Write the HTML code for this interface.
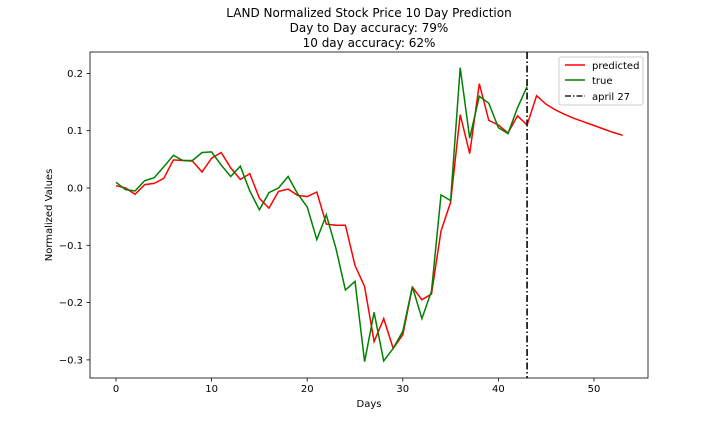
<!DOCTYPE html>
<html><head><meta charset="utf-8"><style>
body{margin:0;background:#fff;font-family:"Liberation Sans","DejaVu Sans",sans-serif}
svg text{font-family:"DejaVu Sans","Liberation Sans",sans-serif}
</style></head><body>
<svg id="chart" width="720" height="432">
<text x="369" y="17" font-size="12" text-anchor="middle">LAND Normalized Stock Price 10 Day Prediction</text>
<text x="369" y="32" font-size="12" text-anchor="middle">Day to Day accuracy: 79%</text>
<text x="369" y="47" font-size="12" text-anchor="middle">10 day accuracy: 62%</text>
<g id="axes"></g>
<g id="lines"></g>
<rect x="90" y="52" width="558" height="326" fill="none" stroke="#000" stroke-width="0.8"/>
<text x="369" y="407" font-size="10" text-anchor="middle">Days</text>
<text x="0" y="0" font-size="10" text-anchor="middle" transform="translate(52,215) rotate(-90)">Normalized Values</text>
<g>
<rect x="559" y="57" width="84" height="48" fill="#fff" stroke="#ccc" rx="2"/>
<line x1="565" y1="65" x2="585" y2="65" stroke="red" stroke-width="1.5"/>
<text x="592" y="69" font-size="10">predicted</text>
<line x1="565" y1="80" x2="585" y2="80" stroke="green" stroke-width="1.5"/>
<text x="592" y="84" font-size="10">true</text>
<line x1="565" y1="96" x2="585" y2="96" stroke="#222" stroke-width="1.5" stroke-dasharray="6,2,1.5,2"/>
<text x="592" y="100" font-size="10">april 27</text>
</g>
</svg>
<script>
const trueVals=[0.01,-0.003,-0.005,0.013,0.018,0.037,0.057,0.048,0.048,0.062,0.063,0.04,0.02,0.038,-0.005,-0.038,-0.008,0.0,0.02,-0.01,-0.033,-0.09,-0.047,-0.105,-0.178,-0.163,-0.303,-0.217,-0.302,-0.28,-0.25,-0.172,-0.228,-0.18,-0.012,-0.022,0.21,0.087,0.16,0.148,0.105,0.095,0.14,0.177];
const predVals=[0.004,0.0,-0.011,0.006,0.008,0.017,0.049,0.048,0.047,0.028,0.052,0.062,0.035,0.015,0.025,-0.018,-0.035,-0.006,-0.002,-0.013,-0.015,-0.007,-0.063,-0.065,-0.065,-0.135,-0.172,-0.268,-0.228,-0.28,-0.256,-0.173,-0.195,-0.185,-0.075,-0.025,0.128,0.06,0.182,0.118,0.11,0.096,0.126,0.11,0.161,0.146,0.136,0.128,0.121,0.115,0.109,0.103,0.097,0.092];
const markerDay=43;
const xTicks=[0,10,20,30,40,50];
const yTicks=[0.2,0.1,0.0,-0.1,-0.2,-0.3];
const yTickLabels=["0.2","0.1","0.0","\u22120.1","\u22120.2","\u22120.3"];
const X=d=>116+d*9.56;
const Y=v=>188-v*573;
const NS="http://www.w3.org/2000/svg";
const axes=document.getElementById('axes'),lines=document.getElementById('lines');
function mk(tag,attrs,parent){const e=document.createElementNS(NS,tag);for(const k in attrs)e.setAttribute(k,attrs[k]);parent.appendChild(e);return e;}
xTicks.forEach(t=>{
  const l=mk('line',{x1:X(t),x2:X(t),y1:378,y2:381.5,stroke:'#000','stroke-width':0.8},axes);
  
  
  const tx=mk('text',{x:X(t),y:392,'font-size':10,'text-anchor':'middle'},axes);
  tx.textContent=t;
  
  
});
yTicks.forEach((t,i)=>{
  const l=mk('line',{x1:86.5,x2:90,y1:Y(t),y2:Y(t),stroke:'#000','stroke-width':0.8},axes);
  
  
  const tx=mk('text',{x:83,y:Y(t)+3.5,'font-size':10,'text-anchor':'end'},axes);
  tx.textContent=yTickLabels[i];
  
  
});
const pts=a=>a.map((v,i)=>X(i).toFixed(1)+','+Y(v).toFixed(1)).join(' ');
const pr=mk('polyline',{points:pts(predVals),fill:'none',stroke:'red','stroke-width':1.5},lines);


const tr=mk('polyline',{points:pts(trueVals),fill:'none',stroke:'green','stroke-width':1.5},lines);


const vl=mk('line',{x1:X(markerDay),x2:X(markerDay),y1:52,y2:378,stroke:'#222','stroke-width':1.8,'stroke-dasharray':'7,2.5,1.5,2.5'},lines);


</script>
</body></html>
